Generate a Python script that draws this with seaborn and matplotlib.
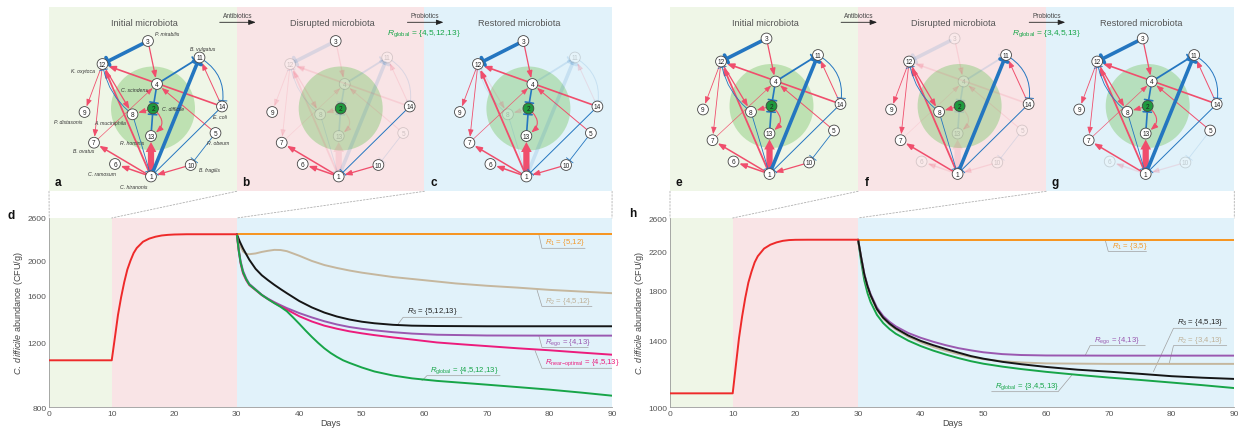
import numpy as np
import pandas as pd
import matplotlib
matplotlib.use("Agg")
import matplotlib.pyplot as plt
from matplotlib.patches import Circle, Rectangle, FancyArrowPatch, ConnectionPatch
from matplotlib.ticker import FixedLocator, FuncFormatter, NullFormatter
import seaborn as sns

sns.set_theme(style="white")
plt.rcParams.update({
    "font.family": ["Liberation Sans", "DejaVu Sans"],
    "mathtext.fontset": "custom",
    "mathtext.rm": "Liberation Sans",
    "mathtext.it": "Liberation Sans:italic",
    "mathtext.bf": "Liberation Sans:bold",
    "axes.linewidth": 0.6,
})

# ---------------- panel d: C. difficile abundance (CFU/g) ----------------
d_pre_days = [0, 10, 10.5, 11, 11.5, 12, 12.5, 13, 13.5, 14, 15, 16, 17, 18, 19, 20, 22, 25, 30]
d_pre_vals = [1072, 1072, 1233, 1422, 1587, 1744, 1887, 1994, 2090, 2157, 2243, 2287,
              2314, 2332, 2341, 2346, 2350, 2350, 2350]
d_r1_days = [30, 90]
d_r1_vals = [2350, 2350]
d_r2_days = [30, 30.5, 31, 31.5, 32, 33, 34, 35, 36, 37, 38, 39, 40, 42, 44, 46, 48, 50,
             55, 60, 65, 70, 75, 80, 85, 90]
d_r2_vals = [2350, 2200, 2110, 2080, 2075, 2085, 2105, 2120, 2132, 2130, 2115, 2085, 2055,
             1990, 1940, 1905, 1875, 1850, 1800, 1765, 1730, 1705, 1685, 1662, 1645, 1628]
d_r3_days = [30, 30.5, 31, 32, 33, 34, 35, 36, 37, 38, 40, 42, 44, 46, 48, 50, 52, 55, 58,
             62, 70, 80, 90]
d_r3_vals = [2350, 2240, 2150, 2005, 1895, 1820, 1765, 1715, 1670, 1628, 1550, 1490, 1443,
             1408, 1382, 1363, 1350, 1337, 1330, 1327, 1325, 1325, 1325]
d_ego_days = [30, 30.3, 30.6, 31, 31.5, 32, 33, 34, 35, 36, 37, 38, 40, 42, 44, 46, 48, 50,
              52, 55, 58, 62, 70, 80, 90]
d_ego_vals = [2350, 2150, 1990, 1870, 1785, 1725, 1668, 1612, 1573, 1540, 1511, 1484, 1438,
              1400, 1367, 1340, 1319, 1304, 1292, 1277, 1266, 1257, 1251, 1250, 1250]
d_near_days = [30, 30.3, 30.6, 31, 31.5, 32, 33, 34, 35, 36, 37, 38, 40, 42, 44, 46, 48, 50,
               52, 55, 58, 62, 66, 70, 75, 80, 85, 90]
d_near_vals = [2350, 2120, 1960, 1840, 1765, 1712, 1660, 1608, 1568, 1532, 1500, 1470, 1410,
               1365, 1330, 1305, 1284, 1268, 1254, 1236, 1220, 1198, 1184, 1171, 1155, 1141,
               1125, 1110]
d_glob_days = [30, 30.3, 30.6, 31, 31.5, 32, 33, 34, 35, 36, 37, 38, 39, 40, 41, 42, 43, 44,
               45, 46, 47, 48, 50, 52, 55, 58, 62, 66, 70, 75, 80, 85, 90]
d_glob_vals = [2350, 2130, 1975, 1855, 1775, 1718, 1663, 1610, 1568, 1530, 1495, 1455, 1400,
               1345, 1290, 1240, 1195, 1155, 1122, 1095, 1072, 1055, 1025, 1000, 975, 958,
               943, 932, 921, 907, 893, 877, 860]

# ---------------- panel h ----------------
h_pre_days = [0, 10, 10.5, 11, 11.5, 12, 12.5, 13, 13.5, 14, 15, 16, 17, 18, 19, 20, 22, 25, 30]
h_pre_vals = [1073, 1073, 1234, 1417, 1581, 1736, 1877, 1983, 2078, 2144, 2228, 2272, 2299,
              2317, 2326, 2329, 2330, 2330, 2330]
h_r1_days = [30, 90]
h_r1_vals = [2330, 2330]
h_days_a = [30, 30.5, 31, 31.5, 32, 33, 34, 35, 36, 38, 40, 42, 44, 46, 48, 50, 53, 56, 60,
            70, 80, 90]
h_ego_vals = [2330, 2130, 1960, 1850, 1770, 1655, 1585, 1540, 1505, 1455, 1420, 1392, 1368,
              1348, 1333, 1320, 1308, 1302, 1299, 1298, 1298, 1298]
h_r2_vals = [2330, 2120, 1945, 1835, 1752, 1635, 1565, 1518, 1482, 1428, 1388, 1356, 1330,
             1308, 1290, 1275, 1262, 1254, 1248, 1245, 1245, 1245]
h_days_b = [30, 30.5, 31, 31.5, 32, 33, 34, 35, 36, 38, 40, 42, 44, 46, 48, 50, 53, 56, 60,
            65, 70, 75, 80, 85, 90]
h_r3_vals = [2330, 2125, 1952, 1842, 1760, 1642, 1572, 1526, 1490, 1437, 1398, 1368, 1342,
             1318, 1295, 1278, 1258, 1243, 1226, 1209, 1197, 1184, 1170, 1161, 1154]
h_glob_vals = [2330, 2080, 1895, 1780, 1700, 1595, 1530, 1485, 1450, 1400, 1362, 1331, 1305,
               1282, 1262, 1246, 1228, 1213, 1196, 1178, 1162, 1148, 1133, 1118, 1102]

# ---------------- microbial network ----------------
node_ids = list(range(1, 15))
node_x = [102, 104, 99, 108, 166.5, 66, 45, 83.5, 35.5, 141.7, 150.5, 53.5, 102, 173]
node_y = [177.5, 109.5, 42, 85, 134, 165, 143.7, 115.3, 113, 166, 58.5, 65, 137, 107.5]
species = ["C. hiranonis", "C. difficile", "P. mirabilis", "C. scindens", "R. obeum",
           "C. ramosum", "B. ovatus", "A. muciniphila", "P. distasonis", "B. fragilis",
           "B. vulgatus", "K. oxytoca", "R. hominis", "E. coli"]
species_x = [84.3, 124, 117.7, 85.3, 169.3, 52.7, 34.3, 61, 19.3, 161, 153.3, 34.3, 82.7, 171]
species_y = [187.7, 109.3, 34.3, 90, 144, 175, 151.7, 124, 122.7, 171, 49.3, 71, 144, 117.3]

edge_src = [3, 14, 12, 12, 12, 1, 2, 2, 1, 1, 1, 10, 5, 7, 14, 3, 4, 1, 4, 13, 14, 5, 11, 8, 8]
edge_dst = [4, 12, 9, 7, 8, 12, 8, 13, 13, 7, 6, 1, 4, 4, 11, 12, 11, 11, 2, 2, 1, 10, 14, 12, 1]
edge_sign = ["+"] * 15 + ["-"] * 10
edge_weight = [0.9, 1.2, 0.6, 0.6, 0.9, 1.3, 0.7, 0.8, 4.0, 1.1, 1.1, 0.9, 0.7, 0.45, 0.7,
               2.6, 1.3, 2.6, 1.2, 1.2, 0.7, 0.6, 0.7, 0.6, 0.6]
edge_bend = [0, 0, 0, 0, 0, 0, 0, -0.7, 0, 0, 0, 0, 0, 0, 0,
             0, 0, 0, 0, 0, 0, 0, -0.35, -0.2, 0]

panel_letters = ["a", "b", "c", "e", "f", "g"]
panel_titles = ["Initial microbiota", "Disrupted microbiota", "Restored microbiota"] * 2
panel_faded_nodes = [[], [4, 5, 8, 11, 12, 13], [8, 11], [], [3, 4, 5, 6, 10, 13], [6, 10]]
panel_faded_edges = [[], [], [], [], [(14, 12)], []]
rglobal_texts = [r"$R_{\mathrm{global}}$ = {4,5,12,13}", r"$R_{\mathrm{global}}$ = {3,4,5,13}"]

# ---------------- styling ----------------
BG_GREEN, BG_PINK, BG_BLUE = "#eff6e7", "#f9e4e6", "#e1f2fa"
RED_EDGE, BLUE_EDGE = "#f04e6c", "#2476c0"
palette = {"pre": "#ee2a2a", "R1": "#f7941d", "R2": "#c5b79e", "R3": "#151515",
           "Rego": "#9a58b0", "Rnear": "#ec1c7c", "Rglobal": "#17a548"}
label_colors = {"R1": "#f39a2c", "R2": "#bfb198", "R3": "#222222", "Rego": "#9a58b0",
                "Rnear": "#ec1c7c", "Rglobal": "#17a548"}


def curves_frame(parts):
    frames = [pd.DataFrame({"day": d, "cfu": v, "series": n}) for n, d, v in parts]
    return pd.concat(frames, ignore_index=True)


df_d = curves_frame([
    ("pre", d_pre_days, d_pre_vals), ("R1", d_r1_days, d_r1_vals),
    ("R2", d_r2_days, d_r2_vals), ("R3", d_r3_days, d_r3_vals),
    ("Rego", d_ego_days, d_ego_vals), ("Rnear", d_near_days, d_near_vals),
    ("Rglobal", d_glob_days, d_glob_vals),
])
df_h = curves_frame([
    ("pre", h_pre_days, h_pre_vals), ("R1", h_r1_days, h_r1_vals),
    ("R2", h_days_a, h_r2_vals), ("Rego", h_days_a, h_ego_vals),
    ("R3", h_days_b, h_r3_vals), ("Rglobal", h_days_b, h_glob_vals),
])

# label callouts: (key, text, curve point, underline start, underline end, join side)
labels_d = [
    ("R1", r"$R_{1}$ = {5,12}", (78.3, 2350), (78.8, 2153), 85.7, "start"),
    ("R2", r"$R_{2}$ = {4,5,12}", (78.0, 1664), (78.8, 1500), 86.8, "start"),
    ("R3", r"$R_{3}$ = {5,12,13}", (55.6, 1330), (56.6, 1401), 66.0, "start"),
    ("Rego", r"$R_{\mathrm{ego}}$ = {4,13}", (78.3, 1250), (78.8, 1162), 86.2, "start"),
    ("Rnear", r"$R_{\mathrm{near{-}optimal}}$ = {4,5,13}", (77.7, 1138), (78.8, 1020), 90.0, "start"),
    ("Rglobal", r"$R_{\mathrm{global}}$ = {4,5,12,13}", (59.6, 944), (60.4, 974), 72.1, "start"),
]
labels_h = [
    ("R1", r"$R_{1}$ = {3,5}", (69.4, 2330), (69.9, 2197), 76.0, "start"),
    ("R3", r"$R_{3}$ = {4,5,13}", (77.1, 1197), (80.3, 1490), 88.8, "start"),
    ("R2", r"$R_{2}$ = {3,4,13}", (79.6, 1244), (80.3, 1365), 88.8, "start"),
    ("Rego", r"$R_{\mathrm{ego}}$ = {4,13}", (66.2, 1298), (67.0, 1365), 75.8, "start"),
    ("Rglobal", r"$R_{\mathrm{global}}$ = {3,4,5,13}", (64.1, 1177), (51.3, 1082), 61.9, "end"),
]

W, H = 1249, 435
fig = plt.figure(figsize=(W / 100, H / 100), dpi=100)
fig.patch.set_facecolor("white")

canvas = fig.add_axes([0, 0, 1, 1])
canvas.set_xlim(0, W)
canvas.set_ylim(H, 0)
canvas.axis("off")

PANEL_TOP, PANEL_BOT = 8.3, 192.3


def draw_network(x0, yoff, faded_nodes, faded_edges, with_species):
    px = [x0 + x for x in node_x]
    py = [y + yoff for y in node_y]
    canvas.add_patch(Circle((px[1], py[1]), 42, facecolor="#7cc66a", alpha=0.42,
                            lw=0, zorder=1))
    for s, t, sign, w, rad in zip(edge_src, edge_dst, edge_sign, edge_weight, edge_bend):
        faded = s in faded_nodes or t in faded_nodes or (s, t) in faded_edges
        alpha = 0.14 if faded else 1.0
        a, b = (px[s - 1], py[s - 1]), (px[t - 1], py[t - 1])
        if sign == "+" and w > 3:
            style, lw, ms, col = "simple,head_length=0.8,head_width=0.85,tail_width=0.5", 0, 9, RED_EDGE
        elif sign == "+":
            style, lw, ms, col = "-|>,head_length=0.42,head_width=0.16", w, 10, RED_EDGE
        else:
            style, lw, ms, col = "-[,widthB=0.3,lengthB=0", w, 10, BLUE_EDGE
        canvas.add_patch(FancyArrowPatch(a, b, arrowstyle=style,
                                         connectionstyle=f"arc3,rad={rad}",
                                         shrinkA=3.8, shrinkB=4.3, mutation_scale=ms,
                                         lw=lw, color=col, alpha=alpha, zorder=2))
    for i, n in enumerate(node_ids):
        alpha = 0.2 if n in faded_nodes else 1.0
        fc = "#1f9a3d" if n == 2 else "white"
        canvas.add_patch(Circle((px[i], py[i]), 5.4, facecolor=fc, edgecolor="#444",
                                lw=0.6, alpha=alpha, zorder=3))
        canvas.text(px[i], py[i] + 0.3, str(n), ha="center", va="center", fontsize=4.7,
                    color="#222", alpha=alpha, zorder=4)
    if with_species:
        for name, sx, sy in zip(species, species_x, species_y):
            canvas.text(x0 + sx, sy, name, ha="center", va="center", fontsize=3.7,
                        style="italic", color="#333", zorder=4)


def draw_top_row(x_left, panel_w, shift, idx0, rglobal):
    colors = [BG_GREEN, BG_PINK, BG_BLUE]
    for k in range(3):
        x0 = x_left + k * panel_w
        canvas.add_patch(Rectangle((x0, PANEL_TOP), panel_w, PANEL_BOT - PANEL_TOP,
                                   facecolor=colors[k], lw=0, zorder=0))
        draw_network(x0 + shift, shift, panel_faded_nodes[idx0 + k],
                     panel_faded_edges[idx0 + k], with_species=(idx0 + k == 0))
        canvas.text(x0 + panel_w / 2 + 1.5, 23.3, panel_titles[idx0 + k], ha="center",
                    va="center", fontsize=6.6, color="#555")
        canvas.text(x0 + 9, 183, panel_letters[idx0 + k], ha="center", va="center",
                    fontsize=8.5, fontweight="bold", color="#111")
    for k, word in [(1, "Antibiotics"), (2, "Probiotics")]:
        xb = x_left + k * panel_w
        canvas.text(xb + 0.7, 16.8, word, ha="center", va="center", fontsize=4.7,
                    color="#444")
        canvas.annotate("", xy=(xb + 19, 23.3), xytext=(xb - 17, 23.3),
                        arrowprops=dict(arrowstyle="-|>,head_length=0.35,head_width=0.13",
                                        lw=0.6, color="#222", shrinkA=0, shrinkB=0))
    canvas.text(x_left + 2 * panel_w, 33.3, rglobal, ha="center", va="center",
                fontsize=6, color="#17a548")


draw_top_row(49.0, 187.7, 0, 0, rglobal_texts[0])
draw_top_row(670.0, 188.1, -2.5, 3, rglobal_texts[1])


def draw_chart(rect, df, order, ylo, yhi, majors, labels, letter, letter_xy):
    x, y0, x1, y1 = rect
    ax = fig.add_axes([x / W, 1 - y1 / H, (x1 - x) / W, (y1 - y0) / H])
    ax.set_facecolor("none")
    ax.axvspan(0, 10, color=BG_GREEN, lw=0, zorder=0)
    ax.axvspan(10, 30, color=BG_PINK, lw=0, zorder=0)
    ax.axvspan(30, 90, color=BG_BLUE, lw=0, zorder=0)
    sns.lineplot(data=df, x="day", y="cfu", hue="series", hue_order=order,
                 palette=palette, estimator=None, sort=False, legend=False,
                 lw=1.4, ax=ax, zorder=3)
    ax.set_yscale("log")
    ax.set_xlim(0, 90)
    ax.set_ylim(ylo, yhi)
    ax.set_xticks(np.arange(0, 91, 10))
    ax.yaxis.set_major_locator(FixedLocator(majors))
    ax.yaxis.set_major_formatter(FuncFormatter(lambda v, _: f"{v:.0f}"))
    minors = [v for v in np.arange(ylo, yhi + 1, 100) if v not in majors]
    ax.yaxis.set_minor_locator(FixedLocator(minors))
    ax.yaxis.set_minor_formatter(NullFormatter())
    for side in ["top", "right"]:
        ax.spines[side].set_visible(False)
    for side in ["left", "bottom"]:
        ax.spines[side].set_color("#9a9a9a")
        ax.spines[side].set_linewidth(0.6)
    ax.tick_params(which="major", direction="in", length=3.5, width=0.5, color="#8a8a8a",
                   labelsize=6, labelcolor="#555", pad=2)
    ax.tick_params(which="minor", direction="in", length=2, width=0.4, color="#9a9a9a")
    ax.set_xlabel("Days", fontsize=6.5, color="#444", labelpad=1)
    ax.set_ylabel(r"$\mathit{C.\ difficile}$ abundance (CFU/g)", fontsize=6.5,
                  color="#444", labelpad=1.5)
    for key, text, cpt, ustart, uend, join in labels:
        if join == "start":
            xs = [cpt[0], ustart[0], uend]
            ys = [cpt[1], ustart[1], ustart[1]]
        else:
            xs = [ustart[0], uend, cpt[0]]
            ys = [ustart[1], ustart[1], cpt[1]]
        ax.plot(xs, ys, color="#a0a0a0", lw=0.5, zorder=2)
        ax.annotate(text, xy=ustart, xytext=(2.5, 0.6), textcoords="offset points",
                    ha="left", va="bottom", fontsize=5.6, color=label_colors[key], zorder=4)
    canvas.text(letter_xy[0], letter_xy[1], letter, ha="center", va="center",
                fontsize=8.5, fontweight="bold", color="#111")
    return ax


ax_d = draw_chart((49.2, 219, 612, 408.3), df_d,
                  ["R1", "R2", "R3", "Rego", "Rnear", "Rglobal", "pre"],
                  800, 2600, [800, 1200, 1600, 2000, 2600], labels_d, "d", (11.5, 216))
ax_h = draw_chart((670, 219, 1234.3, 408.3), df_h,
                  ["R1", "Rglobal", "Rego", "R2", "R3", "pre"],
                  1000, 2600, [1000, 1400, 1800, 2200, 2600], labels_h, "h", (632.7, 214))

# zoom guides from the network panels down to the time axis
for ax, x_left, pw, ytop in [(ax_d, 49.0, 187.7, 2600), (ax_h, 670.0, 188.1, 2600)]:
    for k, day in enumerate([0, 10, 30, 90]):
        cp = ConnectionPatch(xyA=(x_left + k * pw, PANEL_BOT), coordsA=canvas.transData,
                             xyB=(day, ytop), coordsB=ax.transData,
                             color="#b0b0b0", lw=0.6, ls=(0, (2, 2)))
        fig.add_artist(cp)

fig.savefig("out.png", dpi=100)
